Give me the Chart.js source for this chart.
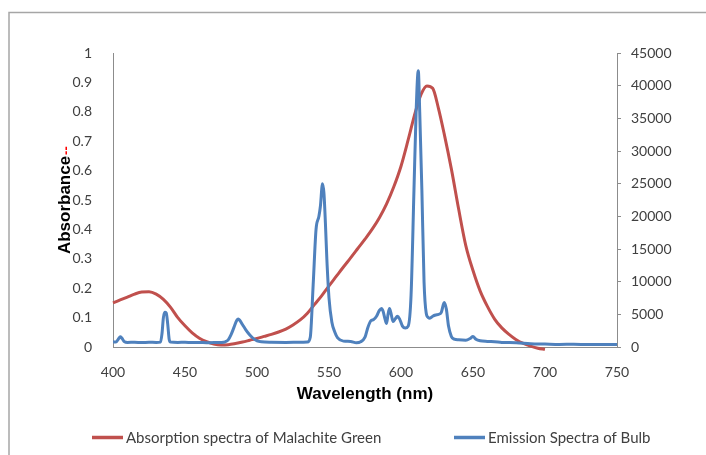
<!DOCTYPE html>
<html>
<head>
<meta charset="utf-8">
<script src="https://cdn.jsdelivr.net/npm/chart.js@4.4.0/dist/chart.umd.min.js"></script>
<style>
  html, body { margin: 0; padding: 0; background: #ffffff; }
  canvas { display: block; }
</style>
</head>
<body>
<canvas id="spectra" width="706" height="455"></canvas>
<script>
// Absorption spectrum of malachite green (left axis, absorbance)
const absWavelength = [400, 405, 410, 415, 420, 425, 430, 435, 440, 445, 450, 455, 460, 465, 470, 475,
  480, 485, 490, 495, 500, 505, 510, 515, 520, 525, 530, 535, 540, 545, 550, 555, 560, 565, 570, 575,
  580, 585, 590, 595, 600, 605, 610, 614, 618, 622, 626, 630, 635, 640, 645, 650, 655, 660, 665, 670,
  675, 680, 685, 690, 695, 700];
const absorbance = [0.150, 0.160, 0.170, 0.180, 0.187, 0.188, 0.180, 0.162, 0.135, 0.100, 0.072, 0.048,
  0.030, 0.018, 0.010, 0.007, 0.008, 0.012, 0.017, 0.023, 0.029, 0.036, 0.043, 0.051, 0.061, 0.075,
  0.092, 0.115, 0.145, 0.175, 0.208, 0.240, 0.272, 0.303, 0.335, 0.367, 0.401, 0.440, 0.487, 0.545,
  0.615, 0.705, 0.800, 0.860, 0.888, 0.880, 0.812, 0.725, 0.605, 0.470, 0.345, 0.260, 0.190, 0.138,
  0.095, 0.065, 0.043, 0.025, 0.012, 0.003, -0.004, -0.008];

// Emission spectrum of the bulb (right axis, counts)
const emWavelength = [400, 402, 404, 405, 406, 408, 410, 415, 420, 425, 430, 433, 434, 435, 436, 437,
  438, 439, 440, 445, 450, 455, 460, 465, 470, 475, 478, 480, 482, 484, 486, 487, 488, 490, 492, 494,
  496, 498, 500, 503, 510, 520, 530, 535, 537, 539, 541, 543, 544, 545.5, 546.5, 547.5, 548.5, 550,
  552, 554, 556, 560, 565, 569, 572, 575, 577, 579, 581, 583, 585, 586.5, 587.5, 589, 590, 591, 592,
  593, 594.5, 596, 597.5, 599, 601, 603, 605, 607, 609, 610.5, 612, 613, 614.5, 616, 617.5, 619, 620,
  622, 624, 626, 628, 630, 631.5, 633, 635, 637, 640, 645, 648, 650, 652, 655, 660, 665, 670, 680,
  690, 700, 710, 720, 730, 740, 750];
const emCounts = [800, 750, 1300, 1550, 1400, 800, 700, 720, 680, 720, 700, 750, 2000, 4500, 5300, 5200,
  3500, 1200, 750, 700, 720, 680, 700, 650, 680, 700, 800, 1100, 1900, 3000, 4100, 4300, 4100, 3400,
  2700, 2100, 1600, 1200, 950, 800, 720, 700, 720, 750, 1500, 9500, 18000, 20000, 21500, 25000, 23500,
  19000, 13500, 7500, 3800, 2300, 1400, 900, 850, 650, 800, 1500, 3000, 4000, 4200, 4700, 5600, 5900,
  5500, 4200, 3600, 5000, 5900, 5200, 3900, 4300, 4700, 4300, 3200, 2900, 3200, 8000, 24000, 36000,
  42300, 36000, 24000, 10000, 5200, 4500, 4400, 4700, 4900, 5000, 5300, 6800, 5800, 3200, 1600, 1200,
  1100, 1050, 1300, 1600, 1200, 950, 850, 800, 700, 650, 500, 450, 400, 420, 380, 400, 380];

// Axis ticks
const wavelengthTicks = [400, 450, 500, 550, 600, 650, 700, 750];
const absorbanceTicks = [0, 0.1, 0.2, 0.3, 0.4, 0.5, 0.6, 0.7, 0.8, 0.9, 1];
const countTicks = [0, 5000, 10000, 15000, 20000, 25000, 30000, 35000, 40000, 45000];

// Text
const seriesNames = ['Absorption spectra of Malachite Green', 'Emission Spectra of Bulb'];
const xTitle = 'Wavelength (nm)';
const yTitle = 'Absorbance';

const toPoints = (xs, ys) => xs.map((x, i) => ({ x: x, y: ys[i] }));
const useTicks = list => scale => { scale.ticks = list.map(v => ({ value: v })); };

const tickFont = { family: 'Lato', size: 14 };
const tickColor = '#404040';
const axisColor = '#8c8c8c';

// Frame, axis titles and legend drawn on the canvas
const decorations = {
  id: 'decorations',
  beforeDraw(chart) {
    const ctx = chart.ctx;
    ctx.save();
    ctx.strokeStyle = '#a6a6a6';
    ctx.lineWidth = 1.5;
    ctx.beginPath();
    ctx.moveTo(9, 455);
    ctx.lineTo(9, 12.5);
    ctx.lineTo(706, 12.5);
    ctx.stroke();
    ctx.restore();
  },
  afterDraw(chart) {
    const ctx = chart.ctx;
    ctx.save();
    // x title
    ctx.fillStyle = '#000000';
    ctx.font = 'bold 17px "Liberation Sans", Arial, sans-serif';
    ctx.textAlign = 'center';
    ctx.textBaseline = 'middle';
    ctx.fillText(xTitle, 365, 394);
    // y title with its trailing red marks
    ctx.translate(65, 205);
    ctx.rotate(-Math.PI / 2);
    ctx.fillText(yTitle, 0, 0);
    const w = ctx.measureText(yTitle).width;
    ctx.fillStyle = '#ff0000';
    ctx.textAlign = 'left';
    ctx.font = 'bold 13px "Liberation Sans", Arial, sans-serif';
    ctx.fillText('--', w / 2 + 1, 1);
    ctx.restore();

    // legend
    ctx.save();
    const starts = [92, 454];
    const ly = 437.5;
    ctx.font = '15px Lato, sans-serif';
    ctx.textAlign = 'left';
    ctx.textBaseline = 'middle';
    chart.data.datasets.forEach((ds, i) => {
      const x0 = starts[i];
      ctx.strokeStyle = ds.borderColor;
      ctx.lineWidth = 3.5;
      ctx.beginPath();
      ctx.moveTo(x0, ly);
      ctx.lineTo(x0 + 31, ly);
      ctx.stroke();
      ctx.fillStyle = tickColor;
      ctx.fillText(ds.label, x0 + 34, ly + 1);
    });
    ctx.restore();
  }
};

new Chart(document.getElementById('spectra'), {
  type: 'line',
  data: {
    datasets: [
      {
        label: seriesNames[0],
        data: toPoints(absWavelength, absorbance),
        yAxisID: 'y',
        borderColor: '#C0504D',
        borderWidth: 3,
        pointRadius: 0,
        cubicInterpolationMode: 'monotone',
        clip: false,
        order: 1
      },
      {
        label: seriesNames[1],
        data: toPoints(emWavelength, emCounts),
        yAxisID: 'y2',
        borderColor: '#4F81BD',
        borderWidth: 3,
        pointRadius: 0,
        cubicInterpolationMode: 'monotone',
        order: 0
      }
    ]
  },
  options: {
    responsive: false,
    animation: false,
    events: [],
    layout: { padding: { top: 53, left: 0, right: 0, bottom: 0 } },
    plugins: { legend: { display: false }, tooltip: { enabled: false } },
    scales: {
      x: {
        type: 'linear',
        min: 400, max: 750,
        afterBuildTicks: useTicks(wavelengthTicks),
        afterFit: s => { s.height = 108; },
        grid: { display: false },
        border: { display: true, color: axisColor, width: 1 },
        ticks: { font: tickFont, color: tickColor, padding: 9, maxRotation: 0,
                 callback: v => String(v) }
      },
      y: {
        position: 'left',
        min: 0, max: 1,
        afterBuildTicks: useTicks(absorbanceTicks),
        afterFit: s => { s.width = 113; },
        grid: { display: false },
        border: { display: true, color: axisColor, width: 1 },
        ticks: { font: tickFont, color: tickColor, padding: 13,
                 callback: v => String(v) }
      },
      y2: {
        position: 'right',
        min: 0, max: 45000,
        afterBuildTicks: useTicks(countTicks),
        afterFit: s => { s.width = 89; },
        grid: { display: true, drawOnChartArea: false, drawTicks: true, tickLength: 4,
                color: axisColor, tickColor: axisColor },
        border: { display: true, color: axisColor, width: 1 },
        ticks: { font: tickFont, color: tickColor, padding: 10,
                 callback: v => String(v) }
      }
    }
  },
  plugins: [decorations]
});
</script>
</body>
</html>
